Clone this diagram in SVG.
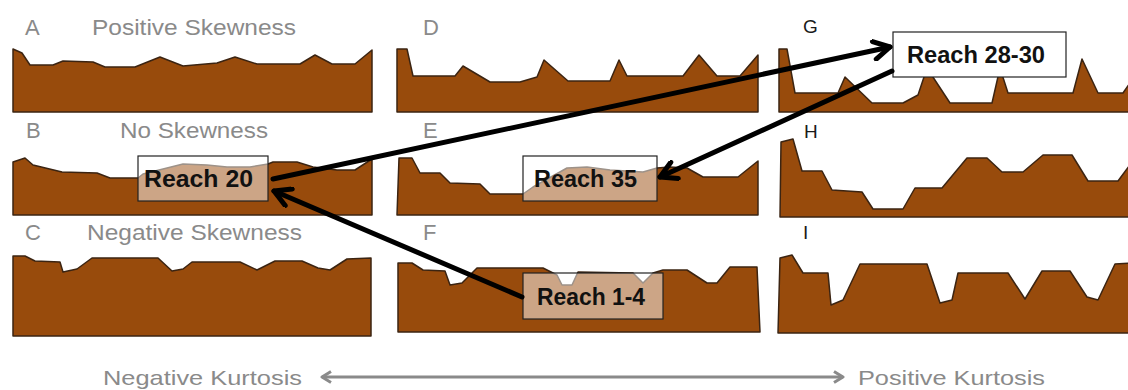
<svg xmlns="http://www.w3.org/2000/svg" width="1128" height="390" viewBox="0 0 1128 390">
  <style>
    .bed { fill: #984b0c; stroke: #3b2412; stroke-width: 1.5; stroke-linejoin: round; }
    .cap { font-family: "Liberation Sans", Arial, sans-serif; font-size: 22px; fill: #8a8a8a; }
    .axt { font-family: "Liberation Sans", Arial, sans-serif; font-size: 21px; fill: #8a8a8a; }
    .dark { font-family: "Liberation Sans", Arial, sans-serif; font-size: 19px; fill: #1a1a1a; }
    .tag { font-family: "Liberation Sans", Arial, sans-serif; font-size: 23px; font-weight: bold; fill: #111; }
    .boxT { fill: #ffffff; fill-opacity: 0.5; stroke: #222; stroke-width: 1.2; }
    .boxW { fill: #ffffff; stroke: #222; stroke-width: 1.2; }
    .link { fill: none; stroke: #000; stroke-width: 5; stroke-linecap: round; }
    .axis { fill: none; stroke: #8a8a8a; stroke-width: 3; }
  </style>
  <defs>
    <marker id="head" markerUnits="userSpaceOnUse" viewBox="0 0 22 22" refX="19" refY="11" markerWidth="22" markerHeight="22" orient="auto">
      <path d="M3,2 L19,11 L3,20" fill="none" stroke="#000" stroke-width="5" stroke-linecap="round" stroke-linejoin="round"/>
    </marker>
    <marker id="axisHead" markerUnits="userSpaceOnUse" viewBox="0 0 14 14" refX="12" refY="7" markerWidth="14" markerHeight="14" orient="auto-start-reverse">
      <path d="M3,1.5 L12,7 L3,12.5" fill="none" stroke="#8a8a8a" stroke-width="3" stroke-linejoin="round"/>
    </marker>
  </defs>

  <rect width="1128" height="390" fill="#ffffff"/>

  <!-- Row labels -->
  <g id="labels">
    <text class="cap" x="25" y="35">A</text>
    <text class="cap" x="92" y="35" textLength="204" lengthAdjust="spacingAndGlyphs">Positive Skewness</text>
    <text class="cap" x="26" y="138">B</text>
    <text class="cap" x="120" y="138" textLength="148" lengthAdjust="spacingAndGlyphs">No Skewness</text>
    <text class="cap" x="25" y="240">C</text>
    <text class="cap" x="87" y="240" textLength="215" lengthAdjust="spacingAndGlyphs">Negative Skewness</text>
    <text class="cap" x="423" y="35">D</text>
    <text class="cap" x="423" y="138">E</text>
    <text class="cap" x="423" y="240">F</text>
    <text class="dark" x="803" y="33">G</text>
    <text class="dark" x="804" y="138">H</text>
    <text class="dark" x="803" y="239">I</text>
  </g>

  <!-- Bed profiles -->
  <g id="panelA">
    <polygon class="bed" points="13,49 22,53 30,65 53,65 63,61 93,62 105,67 135,67 160,57 183,66 217,63 235,57 257,64 300,64 315,55 332,64 355,64 372,50 372,112 13,112"/>
  </g>
  <g id="panelB">
    <polygon class="bed" points="13,162 25,158 33,165 62,172 97,173 110,178 138,178 143,174 167,168 183,164 207,165 227,167 250,167 268,164 273,162 297,162 313,167 337,170 355,170 372,159 372,215 13,215"/>
  </g>
  <g id="panelC">
    <polygon class="bed" points="13,256 25,256 35,261 60,262 63,272 77,269 92,258 158,258 172,271 183,269 192,262 240,262 257,270 275,261 302,261 318,268 330,270 347,259 371,258 371,336 13,336"/>
  </g>
  <g id="panelD">
    <polygon class="bed" points="397,49 407,49 413,76 455,76 463,66 490,82 520,82 537,77 544,60 568,81 610,81 619,60 627,76 683,76 699,55 717,76 740,76 758,55 758,112 397,112"/>
  </g>
  <g id="panelE">
    <polygon class="bed" points="399,158 412,158 420,173 440,173 450,183 480,184 490,194 523,194 533,187 567,168 587,167 610,170 643,172 657,168 670,167 687,168 703,177 738,177 758,161 758,215 397,215"/>
  </g>
  <g id="panelF">
    <polygon class="bed" points="398,263 412,263 423,270 445,271 450,285 462,283 477,268 543,268 557,275 562,285 572,285 578,272 633,273 643,283 653,273 663,270 687,270 707,283 717,283 730,267 757,267 760,332 398,332"/>
  </g>
  <g id="panelG">
    <polygon class="bed" points="779,49 787,49 795,93 838,93 845,77 872,103 903,103 918,95 927,68 950,103 992,103 1000,68 1008,93 1073,93 1082,59 1098,93 1123,93 1132,80 1132,112 779,112"/>
  </g>
  <g id="panelH">
    <polygon class="bed" points="781,142 793,139 802,171 822,171 832,190 862,192 873,209 903,209 915,188 942,188 967,158 987,158 1002,172 1023,172 1043,155 1072,155 1088,181 1118,181 1132,162 1132,217 780,217"/>
  </g>
  <g id="panelI">
    <polygon class="bed" points="780,258 792,255 803,273 828,273 831,305 843,300 860,264 927,264 940,303 952,300 958,273 1008,273 1025,299 1042,271 1070,271 1087,297 1098,300 1115,264 1132,263 1132,333 778,333"/>
  </g>

  <!-- Reach call-outs -->
  <g id="reach20">
    <rect class="boxT" x="138" y="156" width="130" height="45"/>
    <text class="tag" x="144" y="187" textLength="109" lengthAdjust="spacingAndGlyphs">Reach 20</text>
  </g>
  <g id="reach35">
    <rect class="boxT" x="523" y="156" width="134" height="45"/>
    <text class="tag" x="534" y="187" textLength="103" lengthAdjust="spacingAndGlyphs">Reach 35</text>
  </g>
  <g id="reach1-4">
    <rect class="boxT" x="523" y="273" width="140" height="46"/>
    <text class="tag" x="537" y="305" textLength="108" lengthAdjust="spacingAndGlyphs">Reach 1-4</text>
  </g>
  <g id="reach28-30">
    <rect class="boxW" x="893" y="32" width="173" height="45"/>
    <text class="tag" x="907" y="63" textLength="138" lengthAdjust="spacingAndGlyphs">Reach 28-30</text>
  </g>

  <!-- Connectors -->
  <g id="connectors">
    <line class="link" x1="273" y1="179" x2="890" y2="47" marker-end="url(#head)"/>
    <line class="link" x1="892" y1="71" x2="660" y2="177" marker-end="url(#head)"/>
    <line class="link" x1="522" y1="297" x2="274" y2="191" marker-end="url(#head)"/>
  </g>

  <!-- Kurtosis axis -->
  <g id="axis">
    <line class="axis" x1="322" y1="377" x2="843" y2="377" marker-start="url(#axisHead)" marker-end="url(#axisHead)"/>
    <text class="axt" x="103" y="385" textLength="199" lengthAdjust="spacingAndGlyphs">Negative Kurtosis</text>
    <text class="axt" x="858" y="385" textLength="187" lengthAdjust="spacingAndGlyphs">Positive Kurtosis</text>
  </g>
</svg>
